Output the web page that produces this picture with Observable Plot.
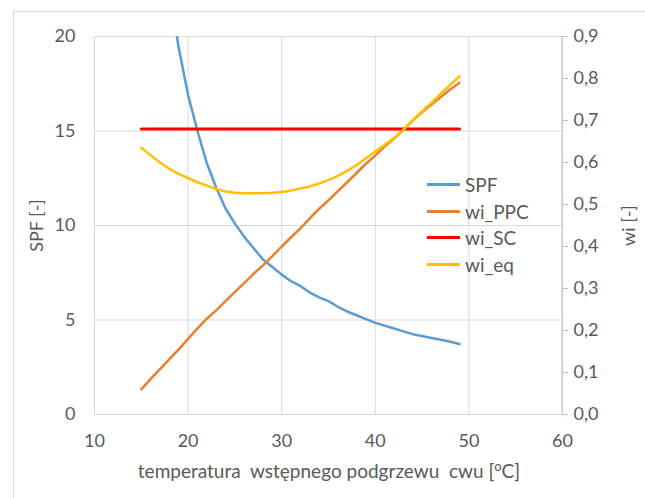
<!DOCTYPE html>
<html>
<head>
<meta charset="utf-8">
<script src="https://cdn.jsdelivr.net/npm/d3@7"></script>
<script src="https://cdn.jsdelivr.net/npm/@observablehq/plot@0.6"></script>
<style>
  html, body { margin: 0; padding: 0; background: #fff; }
  #wrap { position: relative; width: 645px; height: 498px; overflow: hidden; font-family: Lato, "Open Sans", sans-serif; }
  #border { position: absolute; left: 13px; top: 11px; width: 700px; height: 600px; border: 1px solid #d9d9d9; box-sizing: border-box; }
  #chart { position: absolute; left: 0; top: 0; }
  #legend { position: absolute; left: 427px; top: 171px; font-size: 19px; color: #595959; }
  .item { display: flex; align-items: center; height: 26.7px; }
  .sw { width: 33px; height: 3px; margin-right: 5px; }
</style>
</head>
<body>
<div id="wrap">
  <div id="border"></div>
  <div id="chart"></div>
  <div id="legend"></div>
</div>
<script>
const temps = [15,16,17,18,19,20,21,22,23,24,25,26,27,28,29,30,31,32,33,34,35,36,37,38,39,40,41,42,43,44,45,46,47,48,49];
const spf = [45,33.8,27,22.5,19.4,16.9,15.0,13.3,12.0,10.9,10.1,9.4,8.8,8.2,7.8,7.4,7.05,6.8,6.45,6.2,6.0,5.7,5.45,5.25,5.05,4.85,4.7,4.55,4.4,4.25,4.15,4.05,3.95,3.85,3.73];
const wiPPC = [0.060,0.085,0.108,0.132,0.155,0.180,0.205,0.228,0.248,0.270,0.292,0.313,0.335,0.355,0.377,0.400,0.422,0.443,0.467,0.490,0.510,0.532,0.553,0.575,0.597,0.617,0.638,0.657,0.678,0.700,0.720,0.738,0.756,0.774,0.790];
const wiSC = [0.68,0.68,0.68,0.68,0.68,0.68,0.68,0.68,0.68,0.68,0.68,0.68,0.68,0.68,0.68,0.68,0.68,0.68,0.68,0.68,0.68,0.68,0.68,0.68,0.68,0.68,0.68,0.68,0.68,0.68,0.68,0.68,0.68,0.68,0.68];
const wiEq = [0.635,0.617,0.600,0.585,0.573,0.563,0.553,0.545,0.537,0.531,0.528,0.527,0.527,0.527,0.528,0.530,0.533,0.538,0.543,0.550,0.558,0.568,0.580,0.594,0.610,0.626,0.642,0.658,0.678,0.700,0.722,0.742,0.764,0.785,0.805];

const xTicks = [10,20,30,40,50,60];
const spfTicks = [0,5,10,15,20];
const wiTicks = [0,0.1,0.2,0.3,0.4,0.5,0.6,0.7,0.8,0.9];

const seriesNames = ["SPF","wi_PPC","wi_SC","wi_eq"];
const seriesColors = ["#5B9BD5","#ED7D31","#FF0000","#FFC000"];
const seriesWidths = [2.5,2.5,3,2.5];

const SPF_MAX = 20, WI_MAX = 0.9;
const wiToY = v => v * SPF_MAX / WI_MAX;

const rows = temps.map((t, i) => ({t, spf: spf[i], wiPPC: wiPPC[i], wiSC: wiSC[i], wiEq: wiEq[i]}));

const chart = Plot.plot({
  width: 645,
  height: 498,
  marginLeft: 94,
  marginRight: 83,
  marginTop: 36,
  marginBottom: 84,
  style: {fontFamily: "Lato, 'Open Sans', sans-serif", fontSize: "18px", color: "#595959", background: "transparent", overflow: "visible"},
  x: {domain: [10, 60]},
  y: {domain: [0, SPF_MAX]},
  marks: [
    Plot.gridX(xTicks, {stroke: "#d9d9d9", strokeOpacity: 1, strokeWidth: 1}),
    Plot.gridY(spfTicks, {stroke: "#d9d9d9", strokeOpacity: 1, strokeWidth: 1}),
    Plot.frame({stroke: "#d9d9d9"}),
    Plot.axisX(xTicks, {tickSize: 0, tickPadding: 20, label: null, fontSize: 18}),
    Plot.axisY(spfTicks, {anchor: "left", tickSize: 0, tickPadding: 19, fontSize: 18, label: "SPF [-]", labelAnchor: "center", labelOffset: 64, labelArrow: "none"}),
    Plot.axisY(wiTicks.map(wiToY), {anchor: "right", tickSize: 5, tickPadding: 6, stroke: "#bfbfbf", fontSize: 18,
      tickFormat: d => (d * WI_MAX / SPF_MAX).toFixed(1).replace(".", ","), label: "wi [-]", labelAnchor: "center", labelOffset: 72, labelArrow: "none"}),
    Plot.line(rows, {x: "t", y: "spf", stroke: seriesColors[0], strokeWidth: seriesWidths[0], clip: true}),
    Plot.line(rows, {x: "t", y: d => wiToY(d.wiPPC), stroke: seriesColors[1], strokeWidth: seriesWidths[1]}),
    Plot.line(rows, {x: "t", y: d => wiToY(d.wiSC), stroke: seriesColors[2], strokeWidth: seriesWidths[2]}),
    Plot.line(rows, {x: "t", y: d => wiToY(d.wiEq), stroke: seriesColors[3], strokeWidth: seriesWidths[3]})
  ]
});

document.getElementById("chart").appendChild(chart);

// right axis line
d3.select(chart).append("line")
  .attr("x1", 562).attr("x2", 562).attr("y1", 36).attr("y2", 414)
  .attr("stroke", "#bfbfbf");

// x-axis title with superscript
const xt = d3.select(chart).append("text")
  .attr("x", 329).attr("y", 478)
  .attr("text-anchor", "middle")
  .attr("fill", "#595959")
  .style("font-size", "19px");
xt.append("tspan").text("temperatura  wstępnego podgrzewu  cwu [");
xt.append("tspan").attr("dy", -7).style("font-size", "13px").text("o");
xt.append("tspan").attr("dy", 7).text("C]");

// legend
const lg = d3.select("#legend");
seriesNames.forEach((n, i) => {
  const it = lg.append("div").attr("class", "item");
  it.append("div").attr("class", "sw").style("background", seriesColors[i]);
  it.append("span").text(n);
});
</script>
</body>
</html>
